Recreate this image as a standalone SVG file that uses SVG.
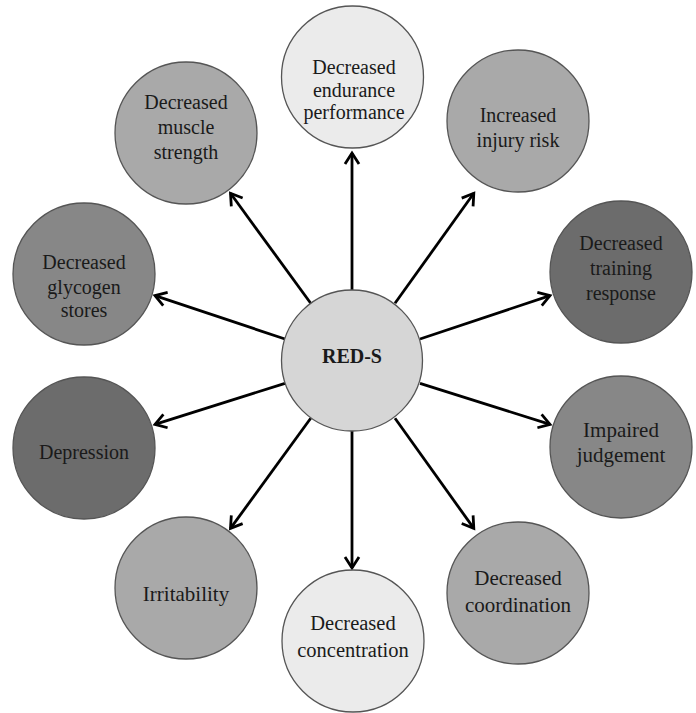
<svg xmlns="http://www.w3.org/2000/svg" width="696" height="713" viewBox="0 0 696 713">
<style>
.n{stroke:#555;stroke-width:1.3}
.t{font-family:"Liberation Serif","Times New Roman",serif;font-size:20px;fill:#1a1a1a;text-anchor:middle;dominant-baseline:central}
.c{stroke:#000;stroke-width:2.8;fill:none;marker-end:url(#ah)}
.l1{fill:#ebebeb}.l2{fill:#d6d6d6}.m{fill:#a9a9a9}.d1{fill:#878787}.d2{fill:#6c6c6c}
</style>
<defs>
<marker id="ah" markerUnits="userSpaceOnUse" markerWidth="20" markerHeight="20" viewBox="-14 -10 16 20" refX="0" refY="0" orient="auto">
<path d="M-11,-7 L0,0 L-11,7" fill="none" stroke="#000" stroke-width="2.8" stroke-linejoin="miter"/>
</marker>
</defs>
<rect width="696" height="713" fill="#fff"/>
<g id="connectors">
<line class="c" x1="352" y1="290" x2="352" y2="153"/>
<line class="c" x1="310.7" y1="303.3" x2="230.5" y2="193.3"/>
<line class="c" x1="395" y1="303.3" x2="473.8" y2="193.3"/>
<line class="c" x1="285" y1="339" x2="155" y2="295.6"/>
<line class="c" x1="420" y1="339" x2="550" y2="295.6"/>
<line class="c" x1="285" y1="383.3" x2="155" y2="424.4"/>
<line class="c" x1="420" y1="383.3" x2="550" y2="424.4"/>
<line class="c" x1="310.7" y1="418.3" x2="230.5" y2="528.4"/>
<line class="c" x1="352" y1="431" x2="352" y2="568"/>
<line class="c" x1="395" y1="418.3" x2="473.8" y2="528.4"/>
</g>
<g id="endurance"><circle class="n l1" cx="352.5" cy="77" r="71"/><text class="t" x="354" y="67">Decreased</text><text class="t" x="354" y="90">endurance</text><text class="t" x="354" y="112">performance</text></g>
<g id="muscle"><circle class="n m" cx="186" cy="133" r="71"/><text class="t" x="186" y="102">Decreased</text><text class="t" x="186" y="127">muscle</text><text class="t" x="186" y="152">strength</text></g>
<g id="injury"><circle class="n m" cx="518" cy="121" r="71"/><text class="t" x="518" y="115">Increased</text><text class="t" x="518" y="140">injury risk</text></g>
<g id="glycogen"><circle class="n d1" cx="84" cy="274" r="71"/><text class="t" x="84" y="262">Decreased</text><text class="t" x="84" y="287">glycogen</text><text class="t" x="84" y="310">stores</text></g>
<g id="training"><circle class="n d2" cx="621" cy="272" r="71"/><text class="t" x="621" y="243">Decreased</text><text class="t" x="621" y="268">training</text><text class="t" x="621" y="293">response</text></g>
<g id="reds"><circle class="n l2" cx="352" cy="360.5" r="70.5"/><text class="t" x="352" y="356" style="font-weight:bold;font-size:20px">RED-S</text></g>
<g id="depression"><circle class="n d2" cx="84" cy="448" r="71"/><text class="t" x="84" y="452">Depression</text></g>
<g id="judgement"><circle class="n d1" cx="621" cy="447" r="71"/><text class="t" x="621" y="430" style="font-size:21px">Impaired</text><text class="t" x="621" y="455" style="font-size:21px">judgement</text></g>
<g id="irritability"><circle class="n m" cx="186" cy="588" r="71"/><text class="t" x="186" y="594" style="font-size:21px">Irritability</text></g>
<g id="concentration"><circle class="n l1" cx="353" cy="641" r="71"/><text class="t" x="353" y="623" style="font-size:20.5px">Decreased</text><text class="t" x="353" y="650" style="font-size:20.5px">concentration</text></g>
<g id="coordination"><circle class="n m" cx="518" cy="593" r="71"/><text class="t" x="518" y="578" style="font-size:21px">Decreased</text><text class="t" x="518" y="605" style="font-size:21px">coordination</text></g>
</svg>
